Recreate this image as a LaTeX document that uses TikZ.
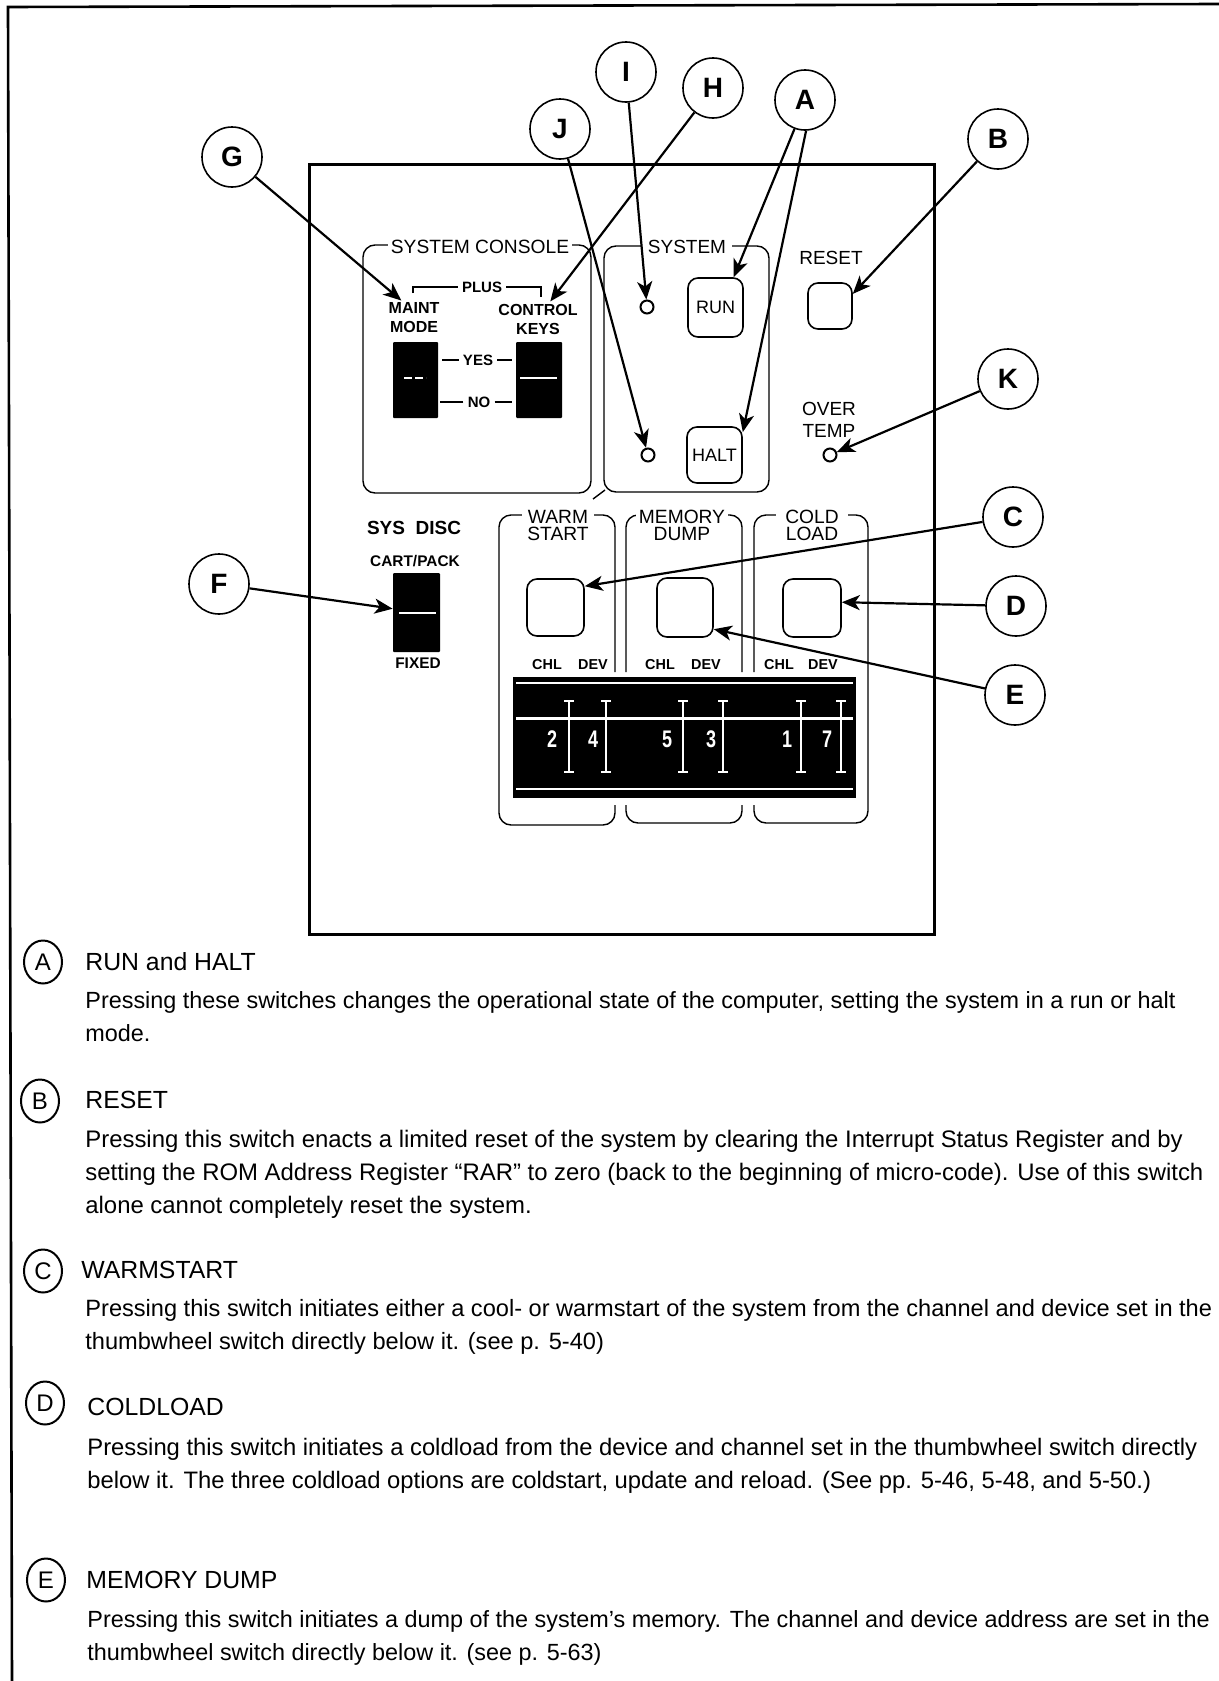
\documentclass[tikz,border=0pt]{standalone}
\usepackage{fontspec}
\setmainfont{Liberation Sans}
\usetikzlibrary{arrows.meta,positioning,shapes.geometric}

\begin{document}
\begin{tikzpicture}[
  x=.5pt,y=-.5pt,>={Stealth[length=9pt,width=7.5pt,inset=2.5pt]},
  rule/.style={line width=.7pt},
  arr/.style={->,line width=1.1pt},
  callout/.style={draw,circle,line width=.8pt,minimum size=30pt,inner sep=0pt,
    font=\fontsize{14}{14}\selectfont\bfseries},
  keycap/.style={draw,rounded corners=5pt,line width=.8pt,inner sep=0pt,
    font=\fontsize{9}{9}\selectfont},
  led/.style={draw,circle,line width=1pt,minimum size=6.5pt,inner sep=0pt},
  toggle/.style={fill=black,inner sep=0pt,rounded corners=.5pt},
  panel/.style={rule,rounded corners=6pt},
  title/.style={fill=white,inner sep=1.5pt,align=center,
    font=\fontsize{9.6}{8.5}\selectfont},
  tag/.style={inner sep=0pt,align=center,font=\fontsize{8}{9.5}\selectfont\bfseries},
  lbl/.style={inner sep=0pt,align=center,font=\fontsize{9.5}{11}\selectfont},
  digit/.style={white,inner sep=0pt,font=\fontsize{12}{12}\selectfont\bfseries},
  key/.style={draw,ellipse,line width=1pt,minimum width=19pt,minimum height=21.5pt,
    inner sep=0pt,font=\fontsize{12}{12}\selectfont},
  head/.style={anchor=west,inner sep=0pt,font=\fontsize{12.4}{14}\selectfont},
  body/.style={anchor=north west,inner sep=0pt,align=left,
    font=\fontsize{#1}{16.4}\selectfont},body/.default=11.7]
\useasboundingbox (0,0) rectangle (1219,1681);
\draw[line width=1.3pt] (1219,4) -- (8,7) -- (12,1681);
\draw[line width=1.5pt] (309,164) rectangle (934,934);

% system console
\draw[panel] (363,245) rectangle (591,493);
\node[title] (console) at (480,247) {SYSTEM CONSOLE};
\node[tag,inner ysep=1pt] (maint) at (414,318) {MAINT\\MODE};
\node[tag,inner ysep=1pt] (ctrl) at (538,319) {CONTROL\\KEYS};
\node[tag,fill=white,inner xsep=2pt,font=\fontsize{7.5}{9}\selectfont\bfseries] (plus) at (482,287) {PLUS};
\draw[rule] (413,293) -- (413,287) -- (plus.west);
\draw[rule] (plus.east) -- (541,287) -- (541,297);
\node[toggle,minimum width=22.5pt,minimum height=38pt] (maintSw) at (415.5,380) {};
\node[toggle,minimum width=23pt,minimum height=38pt] (ctrlSw) at (539,380) {};
\draw[white,line width=.8pt,dashed,dash pattern=on 4pt off 1.5pt] (404,378) -- (426,378);
\draw[white,line width=1pt] (520,378) -- (557,378);
\node[tag,inner xsep=2pt,font=\fontsize{7.5}{9}\selectfont\bfseries] (yes) at (478,360) {YES};
\node[tag,inner xsep=2pt,font=\fontsize{7.5}{9}\selectfont\bfseries] (no) at (479,402) {NO};
\draw[rule] (yes.west) -- (442,360);
\draw[rule] (yes.east) -- (512,360);
\draw[rule] (no.west) -- (440,402);
\draw[rule] (no.east) -- (512,402);

% system
\draw[panel] (604,246) rectangle (769,492);
\draw[rule] (605,490) -- (593,499);
\node[title,inner xsep=3pt,font=\fontsize{9.5}{9.5}\selectfont] (system) at (687,247) {SYSTEM};
\node[led] (ledRun) at (647,307) {};
\node[led] (ledHalt) at (648,455) {};
\node[keycap,minimum width=27.5pt,minimum height=29.5pt] (run) at (715.5,307.5) {RUN};
\node[keycap,minimum width=27.5pt,minimum height=28pt] (halt) at (714.5,455) {HALT};

% reset and over temp
\node[lbl] (resetLbl) at (831,258) {RESET};
\node[keycap,minimum width=22pt,minimum height=23pt] (reset) at (830,306) {};
\node[lbl] (temp) at (829,420) {OVER\\TEMP};
\node[led] (ledTemp) at (830,455) {};

% sys disc
\node[lbl,font=\fontsize{9.5}{9.5}\selectfont\bfseries] (disc) at (414,528) {SYS\ \ DISC};
\node[tag,font=\fontsize{7.7}{9}\selectfont\bfseries] (cart) at (415,561) {CART/PACK};
\node[toggle,minimum width=23.5pt,minimum height=39.5pt] (discSw) at (416.5,612.5) {};
\draw[white,line width=1pt] (399,613) -- (436,613);
\node[tag,font=\fontsize{7.7}{9}\selectfont\bfseries] (fixed) at (418,663) {FIXED};

% restart panels
\draw[panel] (615,672) -- (615,515) -- (499,515) -- (499,825) -- (615,825) -- (615,805);
\draw[panel] (626,672) -- (626,515) -- (742,515) -- (742,672);
\draw[panel] (626,805) -- (626,823) -- (742,823) -- (742,805);
\draw[panel] (754,672) -- (754,515) -- (868,515) -- (868,823) -- (754,823) -- (754,805);
\node[title,minimum width=36pt] (warm) at (558,525) {WARM\\START};
\node[title,minimum width=30pt] (memory) at (682,525) {MEMORY\\DUMP};
\node[title,minimum width=36pt] (cold) at (812,525) {COLD\\LOAD};
\node[keycap,minimum width=28.5pt,minimum height=28.5pt] (warmKey) at (555.5,607.5) {};
\node[keycap,minimum width=28pt,minimum height=29.5pt] (dumpKey) at (685,607.5) {};
\node[keycap,minimum width=29pt,minimum height=29pt] (coldKey) at (812,608) {};
\foreach \name/\xa/\xb in {wa/547/593,me/660/706,co/779/823} {
  \node[tag,font=\fontsize{7.2}{8}\selectfont\bfseries] (chl\name) at (\xa,665) {CHL};
  \node[tag,font=\fontsize{7.2}{8}\selectfont\bfseries] (dev\name) at (\xb,665) {DEV};
}

% thumbwheel display
\node[fill=black,inner sep=0pt,minimum width=171.5pt,minimum height=60.5pt] (wheel) at (684.5,737) {};
\draw[white,line width=.7pt] (516,683) -- (853,683);
\draw[white,line width=1.5pt] (516,718) -- (853,718);
\draw[white,line width=.9pt] (516,789) -- (853,789);
\foreach \x/\n/\dx in {569/2/17,606/4/13,683/5/16,723/3/12,801/1/14,841/7/14} {
  \draw[white,line width=.9pt] (\x-5,701) -- (\x+5,701) (\x,701) -- (\x,772) (\x-5,772) -- (\x+5,772);
  \node[digit] (digit\n) at (\x-\dx,739) {\scalebox{.75}[1]{\n}};
}

% call-outs
\foreach \l/\x/\y in {A/805/100,B/998/139,C/1013/517,D/1016/606,E/1015/695,F/219/584,
    G/232/157,H/713/88,I/626/72,J/560/129,K/1008/379}
  \node[callout] (\l) at (\x,\y) {\l};
\draw[arr] (A.250) -- (run.59);
\draw[arr] (A.272) -- (halt.39);
\draw[arr] (B) -- (reset.28);
\draw[arr] (C) -- (warmKey.36);
\draw[arr] (D) -- (coldKey.11);
\draw[arr] (E) -- (dumpKey.-37);
\draw[arr] (F) -- (discSw.171);
\draw[arr] (G) -- (maint.126);
\draw[arr] (H) -- (ctrl.55);
\draw[arr] (I) -- (ledRun);
\draw[arr] (J) -- (ledHalt);
\draw[arr] (K) -- (ledTemp);

% legend
\node[key] (keyA) at (43,962) {A};
\node[head] (headA) at (85,962) {RUN and HALT};
\node[body] (bodyA) at (85,991) {Pressing these switches changes the operational state of the computer, setting the system in a run or halt\\[.4pt]mode.};
\node[key] (keyB) at (40,1101) {B};
\node[head] (headB) at (85,1100) {RESET};
\node[body=11.95] (bodyB) at (85,1130) {Pressing this switch enacts a limited reset of the system by clearing the Interrupt Status Register and by\\setting the ROM Address Register ``RAR'' to zero (back to the beginning of micro-code). Use of this switch\\alone cannot completely reset the system.};
\node[key] (keyC) at (43,1271) {C};
\node[head] (headC) at (81,1270) {WARMSTART};
\node[body=11.8] (bodyC) at (85,1299) {Pressing this switch initiates either a cool- or warmstart of the system from the channel and device set in the\\thumbwheel switch directly below it. (see p. 5-40)};
\node[key] (keyD) at (45,1403) {D};
\node[head] (headD) at (87,1407) {COLDLOAD};
\node[body=11.9] (bodyD) at (87,1438) {Pressing this switch initiates a coldload from the device and channel set in the thumbwheel switch directly\\below it. The three coldload options are coldstart, update and reload. (See pp. 5-46, 5-48, and 5-50.)};
\node[key] (keyE) at (46,1580) {E};
\node[head] (headE) at (86,1580) {MEMORY DUMP};
\node[body] (bodyE) at (87,1610) {Pressing this switch initiates a dump of the system's memory. The channel and device address are set in the\\thumbwheel switch directly below it. (see p. 5-63)};
\end{tikzpicture}
\end{document}
